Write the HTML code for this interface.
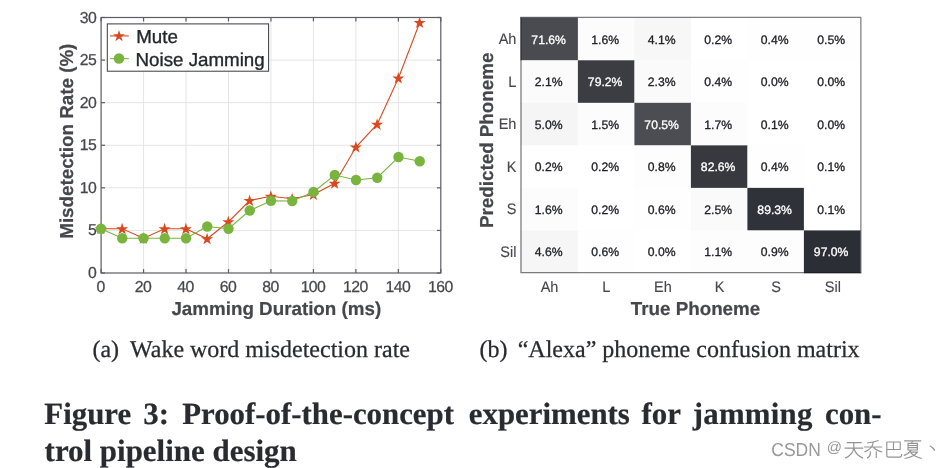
<!DOCTYPE html>
<html><head><meta charset="utf-8"><title>Figure 3</title>
<style>
html,body{margin:0;padding:0;background:#fff;}
body{width:950px;height:468px;overflow:hidden;position:relative;font-family:"Liberation Sans",sans-serif;}
svg text{white-space:pre;}
</style></head><body>
<svg width="950" height="468" viewBox="0 0 950 468" style="position:absolute;left:0;top:0;will-change:transform" text-rendering="geometricPrecision">
<g stroke="#e5e5e5" stroke-width="1" fill="none">
<line x1="143.5625" y1="17.5" x2="143.5625" y2="273.0"/>
<line x1="186.025" y1="17.5" x2="186.025" y2="273.0"/>
<line x1="228.4875" y1="17.5" x2="228.4875" y2="273.0"/>
<line x1="270.95000000000005" y1="17.5" x2="270.95000000000005" y2="273.0"/>
<line x1="313.4125" y1="17.5" x2="313.4125" y2="273.0"/>
<line x1="355.875" y1="17.5" x2="355.875" y2="273.0"/>
<line x1="398.3375000000001" y1="17.5" x2="398.3375000000001" y2="273.0"/>
<line x1="101.1" y1="230.41666666666666" x2="440.8" y2="230.41666666666666"/>
<line x1="101.1" y1="187.83333333333331" x2="440.8" y2="187.83333333333331"/>
<line x1="101.1" y1="145.25" x2="440.8" y2="145.25"/>
<line x1="101.1" y1="102.66666666666666" x2="440.8" y2="102.66666666666666"/>
<line x1="101.1" y1="60.083333333333314" x2="440.8" y2="60.083333333333314"/>
</g>
<g stroke="#5c5d63" stroke-width="1.2" fill="none">
<line x1="101.1" y1="273.0" x2="101.1" y2="269.1"/>
<line x1="101.1" y1="17.5" x2="101.1" y2="21.4"/>
<line x1="143.5625" y1="273.0" x2="143.5625" y2="269.1"/>
<line x1="143.5625" y1="17.5" x2="143.5625" y2="21.4"/>
<line x1="186.025" y1="273.0" x2="186.025" y2="269.1"/>
<line x1="186.025" y1="17.5" x2="186.025" y2="21.4"/>
<line x1="228.4875" y1="273.0" x2="228.4875" y2="269.1"/>
<line x1="228.4875" y1="17.5" x2="228.4875" y2="21.4"/>
<line x1="270.95000000000005" y1="273.0" x2="270.95000000000005" y2="269.1"/>
<line x1="270.95000000000005" y1="17.5" x2="270.95000000000005" y2="21.4"/>
<line x1="313.4125" y1="273.0" x2="313.4125" y2="269.1"/>
<line x1="313.4125" y1="17.5" x2="313.4125" y2="21.4"/>
<line x1="355.875" y1="273.0" x2="355.875" y2="269.1"/>
<line x1="355.875" y1="17.5" x2="355.875" y2="21.4"/>
<line x1="398.3375000000001" y1="273.0" x2="398.3375000000001" y2="269.1"/>
<line x1="398.3375000000001" y1="17.5" x2="398.3375000000001" y2="21.4"/>
<line x1="440.80000000000007" y1="273.0" x2="440.80000000000007" y2="269.1"/>
<line x1="440.80000000000007" y1="17.5" x2="440.80000000000007" y2="21.4"/>
<line x1="101.1" y1="273.0" x2="105.0" y2="273.0"/>
<line x1="440.8" y1="273.0" x2="436.90000000000003" y2="273.0"/>
<line x1="101.1" y1="230.41666666666666" x2="105.0" y2="230.41666666666666"/>
<line x1="440.8" y1="230.41666666666666" x2="436.90000000000003" y2="230.41666666666666"/>
<line x1="101.1" y1="187.83333333333331" x2="105.0" y2="187.83333333333331"/>
<line x1="440.8" y1="187.83333333333331" x2="436.90000000000003" y2="187.83333333333331"/>
<line x1="101.1" y1="145.25" x2="105.0" y2="145.25"/>
<line x1="440.8" y1="145.25" x2="436.90000000000003" y2="145.25"/>
<line x1="101.1" y1="102.66666666666666" x2="105.0" y2="102.66666666666666"/>
<line x1="440.8" y1="102.66666666666666" x2="436.90000000000003" y2="102.66666666666666"/>
<line x1="101.1" y1="60.083333333333314" x2="105.0" y2="60.083333333333314"/>
<line x1="440.8" y1="60.083333333333314" x2="436.90000000000003" y2="60.083333333333314"/>
<line x1="101.1" y1="17.5" x2="105.0" y2="17.5"/>
<line x1="440.8" y1="17.5" x2="436.90000000000003" y2="17.5"/>
<rect x="101.1" y="17.5" width="339.70000000000005" height="255.5"/>
</g>
<polyline points="101.00,228.75 122.25,228.75 143.50,238.25 164.75,228.75 186.00,228.75 207.25,238.75 228.50,221.75 249.75,200.50 271.00,196.25 292.25,198.75 313.50,194.50 334.75,183.25 356.00,147.00 377.25,124.25 398.50,78.00 419.75,22.50" fill="none" stroke="#d9491f" stroke-width="1.1"/>
<polygon points="100.85,222.85 102.28,227.24 106.89,227.24 103.16,229.95 104.58,234.34 100.85,231.63 97.12,234.34 98.54,229.95 94.81,227.24 99.42,227.24" fill="#d9491f"/>
<polygon points="122.10,222.85 123.53,227.24 128.14,227.24 124.41,229.95 125.83,234.34 122.10,231.63 118.37,234.34 119.79,229.95 116.06,227.24 120.67,227.24" fill="#d9491f"/>
<polygon points="143.35,232.35 144.78,236.74 149.39,236.74 145.66,239.45 147.08,243.84 143.35,241.13 139.62,243.84 141.04,239.45 137.31,236.74 141.92,236.74" fill="#d9491f"/>
<polygon points="164.60,222.85 166.03,227.24 170.64,227.24 166.91,229.95 168.33,234.34 164.60,231.63 160.87,234.34 162.29,229.95 158.56,227.24 163.17,227.24" fill="#d9491f"/>
<polygon points="185.85,222.85 187.28,227.24 191.89,227.24 188.16,229.95 189.58,234.34 185.85,231.63 182.12,234.34 183.54,229.95 179.81,227.24 184.42,227.24" fill="#d9491f"/>
<polygon points="207.10,232.85 208.53,237.24 213.14,237.24 209.41,239.95 210.83,244.34 207.10,241.63 203.37,244.34 204.79,239.95 201.06,237.24 205.67,237.24" fill="#d9491f"/>
<polygon points="228.35,215.85 229.78,220.24 234.39,220.24 230.66,222.95 232.08,227.34 228.35,224.63 224.62,227.34 226.04,222.95 222.31,220.24 226.92,220.24" fill="#d9491f"/>
<polygon points="249.60,194.60 251.03,198.99 255.64,198.99 251.91,201.70 253.33,206.09 249.60,203.38 245.87,206.09 247.29,201.70 243.56,198.99 248.17,198.99" fill="#d9491f"/>
<polygon points="270.85,190.35 272.28,194.74 276.89,194.74 273.16,197.45 274.58,201.84 270.85,199.13 267.12,201.84 268.54,197.45 264.81,194.74 269.42,194.74" fill="#d9491f"/>
<polygon points="292.10,192.85 293.53,197.24 298.14,197.24 294.41,199.95 295.83,204.34 292.10,201.63 288.37,204.34 289.79,199.95 286.06,197.24 290.67,197.24" fill="#d9491f"/>
<polygon points="313.35,188.60 314.78,192.99 319.39,192.99 315.66,195.70 317.08,200.09 313.35,197.38 309.62,200.09 311.04,195.70 307.31,192.99 311.92,192.99" fill="#d9491f"/>
<polygon points="334.60,177.35 336.03,181.74 340.64,181.74 336.91,184.45 338.33,188.84 334.60,186.13 330.87,188.84 332.29,184.45 328.56,181.74 333.17,181.74" fill="#d9491f"/>
<polygon points="355.85,141.10 357.28,145.49 361.89,145.49 358.16,148.20 359.58,152.59 355.85,149.88 352.12,152.59 353.54,148.20 349.81,145.49 354.42,145.49" fill="#d9491f"/>
<polygon points="377.10,118.35 378.53,122.74 383.14,122.74 379.41,125.45 380.83,129.84 377.10,127.13 373.37,129.84 374.79,125.45 371.06,122.74 375.67,122.74" fill="#d9491f"/>
<polygon points="398.35,72.10 399.78,76.49 404.39,76.49 400.66,79.20 402.08,83.59 398.35,80.88 394.62,83.59 396.04,79.20 392.31,76.49 396.92,76.49" fill="#d9491f"/>
<polygon points="419.60,16.60 421.03,20.99 425.64,20.99 421.91,23.70 423.33,28.09 419.60,25.38 415.87,28.09 417.29,23.70 413.56,20.99 418.17,20.99" fill="#d9491f"/>
<polyline points="101.00,228.75 122.25,238.25 143.50,238.25 164.75,238.25 186.00,238.25 207.25,226.50 228.50,228.75 249.75,210.50 271.00,200.75 292.25,201.00 313.50,192.00 334.75,175.00 356.00,180.00 377.25,177.75 398.50,157.00 419.75,161.25" fill="none" stroke="#79b43f" stroke-width="1.1"/>
<circle cx="101.00" cy="228.75" r="5.2" fill="#79b43f"/>
<circle cx="122.25" cy="238.25" r="5.2" fill="#79b43f"/>
<circle cx="143.50" cy="238.25" r="5.2" fill="#79b43f"/>
<circle cx="164.75" cy="238.25" r="5.2" fill="#79b43f"/>
<circle cx="186.00" cy="238.25" r="5.2" fill="#79b43f"/>
<circle cx="207.25" cy="226.50" r="5.2" fill="#79b43f"/>
<circle cx="228.50" cy="228.75" r="5.2" fill="#79b43f"/>
<circle cx="249.75" cy="210.50" r="5.2" fill="#79b43f"/>
<circle cx="271.00" cy="200.75" r="5.2" fill="#79b43f"/>
<circle cx="292.25" cy="201.00" r="5.2" fill="#79b43f"/>
<circle cx="313.50" cy="192.00" r="5.2" fill="#79b43f"/>
<circle cx="334.75" cy="175.00" r="5.2" fill="#79b43f"/>
<circle cx="356.00" cy="180.00" r="5.2" fill="#79b43f"/>
<circle cx="377.25" cy="177.75" r="5.2" fill="#79b43f"/>
<circle cx="398.50" cy="157.00" r="5.2" fill="#79b43f"/>
<circle cx="419.75" cy="161.25" r="5.2" fill="#79b43f"/>
<rect x="107.3" y="23.9" width="161.3" height="47.3" fill="#fff" stroke="#3a3b40" stroke-width="1"/>
<line x1="109.9" y1="35.9" x2="128.8" y2="35.9" stroke="#d9491f" stroke-width="1.1"/>
<polygon points="119.00,30.00 120.39,34.28 124.90,34.28 121.25,36.93 122.64,41.22 119.00,38.57 115.36,41.22 116.75,36.93 113.10,34.28 117.61,34.28" fill="#d9491f"/>
<line x1="109.9" y1="58.6" x2="128.8" y2="58.6" stroke="#79b43f" stroke-width="1.1"/>
<circle cx="119.0" cy="58.55" r="5.25" fill="#79b43f"/>
<g font-family="Liberation Sans, sans-serif" font-size="18.75" fill="#26272c" stroke="#26272c" stroke-width="0.35">
<text x="136.2" y="42.8">Mute</text>
<text x="135.5" y="66.3">Noise Jamming</text>
</g>
<g font-family="Liberation Sans, sans-serif" font-size="15.8" letter-spacing="-0.6" fill="#46474c" stroke="#46474c" stroke-width="0.25">
<text x="96.1" y="277.60" text-anchor="end">0</text>
<text x="96.1" y="235.15" text-anchor="end">5</text>
<text x="96.1" y="192.70" text-anchor="end">10</text>
<text x="96.1" y="150.25" text-anchor="end">15</text>
<text x="96.1" y="107.80" text-anchor="end">20</text>
<text x="96.1" y="65.35" text-anchor="end">25</text>
<text x="96.1" y="22.90" text-anchor="end">30</text>
<text x="100.60" y="292.2" text-anchor="middle">0</text>
<text x="143.06" y="292.2" text-anchor="middle">20</text>
<text x="185.53" y="292.2" text-anchor="middle">40</text>
<text x="227.99" y="292.2" text-anchor="middle">60</text>
<text x="270.45" y="292.2" text-anchor="middle">80</text>
<text x="312.91" y="292.2" text-anchor="middle">100</text>
<text x="355.38" y="292.2" text-anchor="middle">120</text>
<text x="397.84" y="292.2" text-anchor="middle">140</text>
<text x="440.30" y="292.2" text-anchor="middle">160</text>
</g>
<g font-family="Liberation Sans, sans-serif" font-size="18.8" font-weight="bold" fill="#46474c" stroke="#46474c" stroke-width="0.2">
<text x="276.3" y="314.6" text-anchor="middle">Jamming Duration (ms)</text>
<text transform="translate(73,141.2) rotate(-90)" text-anchor="middle">Misdetection Rate (%)</text>
<text x="695.5" y="315" text-anchor="middle">True Phoneme</text>
<text transform="translate(492.6,140.3) rotate(-90)" text-anchor="middle">Predicted Phoneme</text>
</g>
<rect x="520.50" y="17.38" width="57.70" height="43.22" fill="#494b50"/>
<rect x="577.90" y="17.38" width="56.80" height="43.22" fill="#fcfcfc"/>
<rect x="634.40" y="17.38" width="56.80" height="43.22" fill="#f7f7f7"/>
<rect x="690.90" y="17.38" width="56.80" height="43.22" fill="#ffffff"/>
<rect x="747.40" y="17.38" width="56.80" height="43.22" fill="#fefefe"/>
<rect x="803.90" y="17.38" width="56.80" height="43.22" fill="#fefefe"/>
<rect x="520.50" y="60.30" width="57.70" height="42.82" fill="#fbfbfb"/>
<rect x="577.90" y="60.30" width="56.80" height="42.82" fill="#3b3d42"/>
<rect x="634.40" y="60.30" width="56.80" height="42.82" fill="#fafafa"/>
<rect x="690.90" y="60.30" width="56.80" height="42.82" fill="#fefefe"/>
<rect x="747.40" y="60.30" width="56.80" height="42.82" fill="#ffffff"/>
<rect x="803.90" y="60.30" width="56.80" height="42.82" fill="#ffffff"/>
<rect x="520.50" y="102.83" width="57.70" height="42.82" fill="#f5f5f5"/>
<rect x="577.90" y="102.83" width="56.80" height="42.82" fill="#fcfcfc"/>
<rect x="634.40" y="102.83" width="56.80" height="42.82" fill="#4b4d52"/>
<rect x="690.90" y="102.83" width="56.80" height="42.82" fill="#fcfcfc"/>
<rect x="747.40" y="102.83" width="56.80" height="42.82" fill="#ffffff"/>
<rect x="803.90" y="102.83" width="56.80" height="42.82" fill="#ffffff"/>
<rect x="520.50" y="145.35" width="57.70" height="42.82" fill="#ffffff"/>
<rect x="577.90" y="145.35" width="56.80" height="42.82" fill="#ffffff"/>
<rect x="634.40" y="145.35" width="56.80" height="42.82" fill="#fdfdfd"/>
<rect x="690.90" y="145.35" width="56.80" height="42.82" fill="#37393f"/>
<rect x="747.40" y="145.35" width="56.80" height="42.82" fill="#fefefe"/>
<rect x="803.90" y="145.35" width="56.80" height="42.82" fill="#ffffff"/>
<rect x="520.50" y="187.88" width="57.70" height="42.82" fill="#fcfcfc"/>
<rect x="577.90" y="187.88" width="56.80" height="42.82" fill="#ffffff"/>
<rect x="634.40" y="187.88" width="56.80" height="42.82" fill="#fefefe"/>
<rect x="690.90" y="187.88" width="56.80" height="42.82" fill="#fafafa"/>
<rect x="747.40" y="187.88" width="56.80" height="42.82" fill="#30323a"/>
<rect x="803.90" y="187.88" width="56.80" height="42.82" fill="#ffffff"/>
<rect x="520.50" y="230.41" width="57.70" height="42.82" fill="#f6f6f6"/>
<rect x="577.90" y="230.41" width="56.80" height="42.82" fill="#fefefe"/>
<rect x="634.40" y="230.41" width="56.80" height="42.82" fill="#ffffff"/>
<rect x="690.90" y="230.41" width="56.80" height="42.82" fill="#fdfdfd"/>
<rect x="747.40" y="230.41" width="56.80" height="42.82" fill="#fdfdfd"/>
<rect x="803.90" y="230.41" width="56.80" height="42.82" fill="#2c2e36"/>
<path d="M521,17 V272.7 H861.2" fill="none" stroke="#14161e" stroke-opacity="0.55" stroke-width="1.3"/>
<path d="M520.4,17.3 H860.9 V273.3" fill="none" stroke="#4a4c55" stroke-width="0.9"/>
<g font-family="Liberation Sans, sans-serif" font-size="12.2" text-anchor="middle">
<text x="548.65" y="43.55" fill="#ffffff" stroke="#ffffff" stroke-width="0.3">71.6%</text>
<text x="605.15" y="43.55" fill="#222327" stroke="#222327" stroke-width="0.3">1.6%</text>
<text x="661.65" y="43.55" fill="#222327" stroke="#222327" stroke-width="0.3">4.1%</text>
<text x="718.15" y="43.55" fill="#222327" stroke="#222327" stroke-width="0.3">0.2%</text>
<text x="774.65" y="43.55" fill="#222327" stroke="#222327" stroke-width="0.3">0.4%</text>
<text x="831.15" y="43.55" fill="#222327" stroke="#222327" stroke-width="0.3">0.5%</text>
<text x="548.65" y="86.05" fill="#222327" stroke="#222327" stroke-width="0.3">2.1%</text>
<text x="605.15" y="86.05" fill="#ffffff" stroke="#ffffff" stroke-width="0.3">79.2%</text>
<text x="661.65" y="86.05" fill="#222327" stroke="#222327" stroke-width="0.3">2.3%</text>
<text x="718.15" y="86.05" fill="#222327" stroke="#222327" stroke-width="0.3">0.4%</text>
<text x="774.65" y="86.05" fill="#222327" stroke="#222327" stroke-width="0.3">0.0%</text>
<text x="831.15" y="86.05" fill="#222327" stroke="#222327" stroke-width="0.3">0.0%</text>
<text x="548.65" y="128.55" fill="#222327" stroke="#222327" stroke-width="0.3">5.0%</text>
<text x="605.15" y="128.55" fill="#222327" stroke="#222327" stroke-width="0.3">1.5%</text>
<text x="661.65" y="128.55" fill="#ffffff" stroke="#ffffff" stroke-width="0.3">70.5%</text>
<text x="718.15" y="128.55" fill="#222327" stroke="#222327" stroke-width="0.3">1.7%</text>
<text x="774.65" y="128.55" fill="#222327" stroke="#222327" stroke-width="0.3">0.1%</text>
<text x="831.15" y="128.55" fill="#222327" stroke="#222327" stroke-width="0.3">0.0%</text>
<text x="548.65" y="171.05" fill="#222327" stroke="#222327" stroke-width="0.3">0.2%</text>
<text x="605.15" y="171.05" fill="#222327" stroke="#222327" stroke-width="0.3">0.2%</text>
<text x="661.65" y="171.05" fill="#222327" stroke="#222327" stroke-width="0.3">0.8%</text>
<text x="718.15" y="171.05" fill="#ffffff" stroke="#ffffff" stroke-width="0.3">82.6%</text>
<text x="774.65" y="171.05" fill="#222327" stroke="#222327" stroke-width="0.3">0.4%</text>
<text x="831.15" y="171.05" fill="#222327" stroke="#222327" stroke-width="0.3">0.1%</text>
<text x="548.65" y="213.55" fill="#222327" stroke="#222327" stroke-width="0.3">1.6%</text>
<text x="605.15" y="213.55" fill="#222327" stroke="#222327" stroke-width="0.3">0.2%</text>
<text x="661.65" y="213.55" fill="#222327" stroke="#222327" stroke-width="0.3">0.6%</text>
<text x="718.15" y="213.55" fill="#222327" stroke="#222327" stroke-width="0.3">2.5%</text>
<text x="774.65" y="213.55" fill="#ffffff" stroke="#ffffff" stroke-width="0.3">89.3%</text>
<text x="831.15" y="213.55" fill="#222327" stroke="#222327" stroke-width="0.3">0.1%</text>
<text x="548.65" y="256.05" fill="#222327" stroke="#222327" stroke-width="0.3">4.6%</text>
<text x="605.15" y="256.05" fill="#222327" stroke="#222327" stroke-width="0.3">0.6%</text>
<text x="661.65" y="256.05" fill="#222327" stroke="#222327" stroke-width="0.3">0.0%</text>
<text x="718.15" y="256.05" fill="#222327" stroke="#222327" stroke-width="0.3">1.1%</text>
<text x="774.65" y="256.05" fill="#222327" stroke="#222327" stroke-width="0.3">0.9%</text>
<text x="831.15" y="256.05" fill="#ffffff" stroke="#ffffff" stroke-width="0.3">97.0%</text>
</g>
<g font-family="Liberation Sans, sans-serif" font-size="14.5" fill="#46474c" stroke="#46474c" stroke-width="0.12">
<text transform="translate(516.4,44.27) scale(1,1.05)" text-anchor="end">Ah</text>
<text transform="translate(516.4,86.82) scale(1,1.05)" text-anchor="end">L</text>
<text transform="translate(516.4,129.38) scale(1,1.05)" text-anchor="end">Eh</text>
<text transform="translate(516.4,171.92) scale(1,1.05)" text-anchor="end">K</text>
<text transform="translate(516.4,214.47) scale(1,1.05)" text-anchor="end">S</text>
<text transform="translate(516.4,257.02) scale(1,1.05)" text-anchor="end">Sil</text>
<text transform="translate(549.53,291.7) scale(1,1.05)" text-anchor="middle">Ah</text>
<text transform="translate(606.20,291.7) scale(1,1.05)" text-anchor="middle">L</text>
<text transform="translate(662.87,291.7) scale(1,1.05)" text-anchor="middle">Eh</text>
<text transform="translate(719.53,291.7) scale(1,1.05)" text-anchor="middle">K</text>
<text transform="translate(776.20,291.7) scale(1,1.05)" text-anchor="middle">S</text>
<text transform="translate(832.87,291.7) scale(1,1.05)" text-anchor="middle">Sil</text>
</g>
<g font-family="Liberation Serif, serif" font-size="24" fill="#2a2b30" stroke="#2a2b30" stroke-width="0.25">
<text x="92.4" y="356.7">(a)</text>
<text x="130" y="356.7">Wake word misdetection rate</text>
<text x="479.6" y="356.9">(b)</text>
<text x="517.7" y="356.9">“Alexa” phoneme confusion matrix</text>
</g>
<g font-family="Liberation Serif, serif" font-size="30.85" font-weight="bold" fill="#2a2b31" stroke="#2a2b31" stroke-width="0.2">
<text x="44.3" y="424.1">Figure</text>
<text x="143.3" y="424.1">3:</text>
<text x="182.2" y="424.1">Proof-of-the-concept</text>
<text x="468.8" y="424.1">experiments</text>
<text x="641.6" y="424.1">for</text>
<text x="692.8" y="424.1" letter-spacing="0.22">jamming</text>
<text x="825.0" y="424.1">con-</text>
<text x="44.6" y="461.3" font-size="30.95">trol pipeline design</text>
</g>
<g font-family="Liberation Sans, sans-serif" fill="#989898">
<text x="771.3" y="456" font-size="18.8" textLength="49.5" lengthAdjust="spacingAndGlyphs">CSDN</text>
<text x="826.8" y="452.4" font-size="15">@</text>
</g>
<path transform="translate(844.0,439.3) scale(0.1960)" d="M14,17 H90 M3,45 H98 M50,17 V45 Q46,78 6,96 M51,47 Q60,80 97,96" fill="none" stroke="#939393" stroke-width="5.87" stroke-linecap="butt" stroke-linejoin="miter"/>
<path transform="translate(863.6,439.3) scale(0.1920)" d="M78,6 Q52,16 18,19 M3,40 H97 M50,17 Q47,50 4,66 M52,42 Q64,58 97,66 M35,62 V76 Q34,90 18,98 M66,62 V98" fill="none" stroke="#939393" stroke-width="5.99" stroke-linecap="butt" stroke-linejoin="miter"/>
<path transform="translate(884.2,439.8) scale(0.1860)" d="M14,12 H86 V52 H14 M50,12 V52 M14,12 V84 Q14,93 26,93 H84 Q94,93 94,76" fill="none" stroke="#939393" stroke-width="6.18" stroke-linecap="butt" stroke-linejoin="miter"/>
<path transform="translate(903.0,439.3) scale(0.1940)" d="M6,8 H94 M50,8 L44,20 M26,21 H74 V55 H26 Z M26,32 H74 M26,43 H74 M42,56 Q30,74 4,84 M36,66 H74 Q58,90 8,99 M40,70 Q60,90 97,99" fill="none" stroke="#939393" stroke-width="5.93" stroke-linecap="butt" stroke-linejoin="miter"/>
<path transform="translate(929.4,445.4) scale(0.1800)" d="M2,2 Q22,12 30,30" fill="none" stroke="#939393" stroke-width="6.39" stroke-linecap="butt" stroke-linejoin="miter"/>
</svg>
</body></html>
